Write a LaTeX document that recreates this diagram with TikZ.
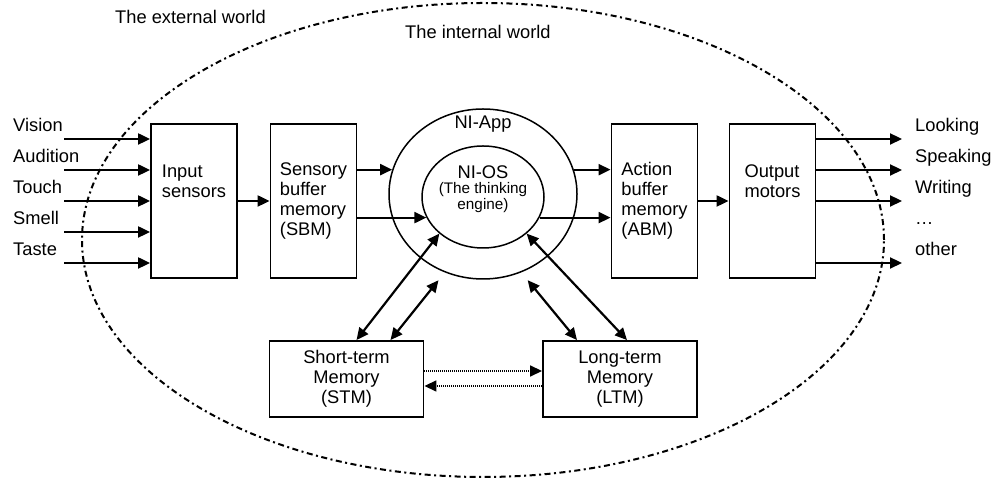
\documentclass[tikz,border=0pt]{standalone}
\usepackage{fontspec}
\setmainfont{Liberation Sans}
\usepackage{tikz}
\usetikzlibrary{arrows.meta}
\usetikzlibrary{calc}
\usetikzlibrary{positioning}
\usetikzlibrary{shapes.geometric}
\newcommand\bigfont{\fontsize{18.3}{20}\selectfont}
\newcommand\smallfont{\fontsize{15.3}{16}\selectfont}
\tikzstyle{lbl}=[anchor=base west,inner sep=0pt]
\tikzstyle{box}=[draw,line width=1.9pt,minimum width=86pt,minimum height=154pt,align=left,inner sep=0pt]
\tikzstyle{membox}=[draw,line width=1.9pt,minimum width=154pt,minimum height=76pt,align=center,inner sep=0pt]
\tikzstyle{ring}=[draw,ellipse,line width=1.5pt,inner sep=0pt]
\tikzstyle{arhead}=[>={Triangle[length=12pt,width=11pt]}]
\tikzstyle{arr}=[line width=2.2pt,arhead,->]
\tikzstyle{dbl}=[line width=2.2pt,arhead,<->]
\tikzstyle{recall}=[line width=1.6pt,arhead,->,dash pattern=on 1pt off 1pt]
\tikzstyle{world}=[line width=2pt,dash pattern=on 6pt off 3.5pt on 2pt off 3.5pt]

\begin{document}
\begin{tikzpicture}[x=1pt,y=1pt,font=\bigfont]
	\useasboundingbox (0,0) rectangle (993,478);
	% the two worlds
	\draw[world] (483,238) ellipse [x radius=401, y radius=237];
	\node[lbl] (extname) at (115,454.5) {The external world};
	\node[lbl] (intname) at (405,439.5) {The internal world};
	% boxes
	\node[box] (input)  at (194,277)   {Input\\sensors\\~\\~};
	\node[box] (sbm)    at (313.5,277) {Sensory\\buffer\\memory\\(SBM)};
	\node[box] (abm)    at (654.5,277) {Action\\buffer\\memory\\(ABM)};
	\node[box] (output) at (772.5,277) {Output\\motors\\~\\~};
	\node[membox] (stm) at (346.5,99)  {Short-term\\Memory\\(STM)};
	\node[membox] (ltm) at (620,99)    {Long-term\\Memory\\(LTM)};
	% NI-App and NI-OS
	\node[ring,minimum width=188pt,minimum height=170pt] (niapp) at (483,284) {};
	\node[ring,minimum width=122pt,minimum height=102pt] (nios)  at (483,281) {};
	\node (appname) [below=4pt of niapp.north] {NI-App};
	\node[align=center] (osname) at ([yshift=8pt]nios.center)
		{NI-OS\\[-4.5pt]{\smallfont (The thinking}\\[-4.5pt]{\smallfont engine)}};
	% senses in
	\foreach \what [count=\i] in {Vision,Audition,Touch,Smell,Taste} {
		\coordinate (sense\i) at (64,370-31*\i);
		\node[lbl] (sensename\i) at (13,377.5-31*\i) {\what};
		\draw[arr] (sense\i) -- (sense\i -| input.west);
	}
	\draw[arr] (input) -- (sbm);
	\draw[arr] (sbm.east |- niapp.165) -- (niapp.165);
	\draw[arr] (sbm.east |- nios.200) -- (nios.200);
	\draw[arr] (niapp.15) -- (niapp.15 -| abm.west);
	\draw[arr] (nios.340) -- (nios.340 -| abm.west);
	\draw[arr] (abm) -- (output);
	% actions out
	\foreach \what [count=\i] in {Looking,Speaking,Writing,\dots,other}
		\node[lbl] (actname\i) at (915,377.5-31*\i) {\what};
	\foreach \i in {1,2,3,5} {
		\coordinate (act\i) at (902,370-31*\i);
		\draw[arr] (output.east |- act\i) -- (act\i);
	}
	% memories
	\draw[dbl] ([xshift=10pt]stm.north) -- (nios.220);
	\draw[dbl,shorten >=10pt] ([xshift=44pt]stm.north) -- (niapp.244);
	\draw[dbl,shorten >=10pt] ([xshift=-43pt]ltm.north) -- (niapp.296);
	\draw[dbl] ([xshift=7pt]ltm.north) -- (nios.320);
	\draw[recall] ([yshift=8pt]stm.east) -- ([yshift=8pt]ltm.west);
	\draw[recall] ([yshift=-7pt]ltm.west) -- ([yshift=-7pt]stm.east);
\end{tikzpicture}
\end{document}
